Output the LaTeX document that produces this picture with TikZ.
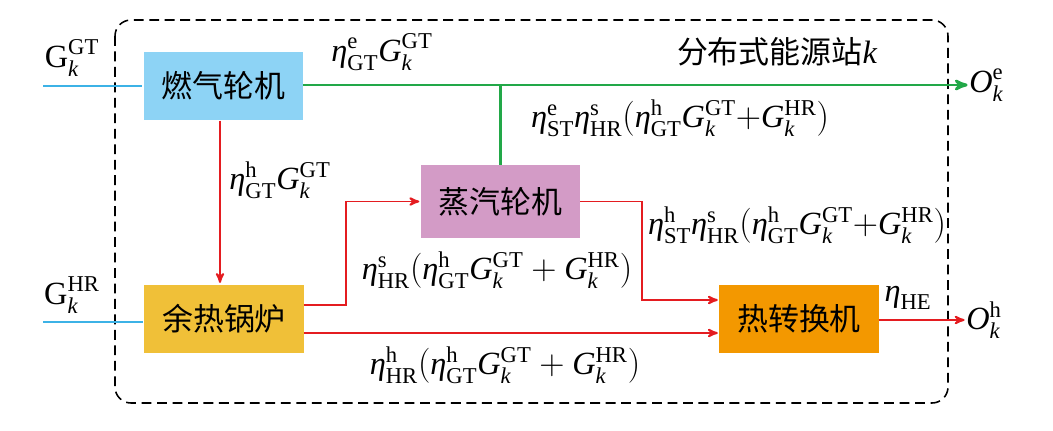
\documentclass[tikz,border=0pt]{standalone}
\usepackage{amsmath}
\usepackage{fontspec}
\setmainfont{Liberation Serif}
\newfontfamily\cjk{Noto Sans CJK SC}
\usepackage{tikz}
\usetikzlibrary{arrows,positioning}

\definecolor{gtblue}{RGB}{141,211,245}
\definecolor{stpink}{RGB}{211,155,198}
\definecolor{hryellow}{RGB}{240,192,56}
\definecolor{heorange}{RGB}{243,152,0}
\definecolor{flowgreen}{RGB}{34,168,72}
\definecolor{flowred}{RGB}{228,28,32}
\definecolor{flowblue}{RGB}{60,178,230}

% italic letters from the text font
\newcommand{\ieta}{\text{\itshape η}}
\newcommand{\ik}{\text{\itshape k}}
\newcommand{\effi}[2]{\ieta^{\mathrm{#1}}_{\mathrm{#2}}}
\newcommand{\gas}[1]{\text{\itshape G}^{\mathrm{#1}}_{\ik}}

\tikzset{
  unit/.style={rectangle, minimum width=3.975cm, minimum height=1.72cm,
    font=\cjk\fontsize{22}{26}\selectfont},
  lbl/.style={inner sep=0pt, font=\fontsize{23}{27}\selectfont},
  gasline/.style={flowblue, line width=1.1pt},
  elecline/.style={flowgreen, line width=2pt},
  heatline/.style={flowred, line width=1.4pt}
}

\begin{document}
\begin{tikzpicture}[x=0.025cm, y=-0.025cm, >=stealth', shorten >=1pt]
    \useasboundingbox (0,0) rectangle (1053,430);

    % station border
    \draw [line width=1.1pt, dash pattern=on 7pt off 4pt, rounded corners=0.4cm]
        (115,20) rectangle (948,403);
    \node [lbl, font=\cjk\fontsize{22}{26}\selectfont] (station) at (777,52) {分布式能源站{\rmfamily\itshape\fontsize{23}{27}\selectfont k}};

    % units
    \node [unit, fill=gtblue]   (gt)   at (223.5,86)  {燃气轮机};
    \node [unit, fill=stpink, minimum height=1.82cm] (st) at (500.5,201.5) {蒸汽轮机};
    \node [unit, fill=hryellow] (hrsg) at (224,319)   {余热锅炉};
    \node [unit, fill=heorange] (he)   at (799,319)   {热转换机};

    % inputs and outputs
    \coordinate (gin) at (43,86);
    \coordinate (hin) at (43,322);
    \coordinate (oe)  at (969,85);
    \coordinate (oh)  at (966,320);
    \node [lbl] (gin label) at (72,58)  {$\mathrm{G}^{\mathrm{GT}}_{\ik}$};
    \node [lbl] (hin label) at (72,295) {$\mathrm{G}^{\mathrm{HR}}_{\ik}$};
    \node [lbl, anchor=west] (oe label) at (oe) {$\text{\itshape O}^{\mathrm{e}}_{\ik}$};
    \node [lbl, anchor=west] (oh label) at (oh) {$\text{\itshape O}^{\mathrm{h}}_{\ik}$};

    % Paths
    \draw [gasline] (gin) -- (gt.west);
    \draw [gasline] (hin) -- (hin -| hrsg.west);
    \draw [elecline, ->] (gt.east |- oe) -- (oe);
    \draw [elecline] (st.north) -- (st.north |- oe);
    \draw [heatline, ->] (gt.south -| 220,0) -- (hrsg.north -| 220,0);
    \draw [heatline, ->] ([yshift=0.35cm]hrsg.east) -- ++(42,0) |- (st.west);
    \draw [heatline, ->] (st.east) -- ++(62,0) |- ([yshift=0.475cm]he.west);
    \draw [heatline, ->] ([yshift=-0.35cm]hrsg.east) -- ([yshift=-0.35cm]he.west);
    \draw [heatline, ->] (he.east |- oh) -- (oh);

    % flow labels
    \node [lbl] (gt e)  at (382,52)  {$\effi{e}{GT}\gas{GT}$};
    \node [lbl] (st e)  at (680,118) {$\effi{e}{ST}\effi{s}{HR}(\effi{h}{GT}\gas{GT}{+}\gas{HR})$};
    \node [lbl] (gt h)  at (280,180) {$\effi{h}{GT}\gas{GT}$};
    \node [lbl] (hr s)  at (497,270) {$\effi{s}{HR}(\effi{h}{GT}\gas{GT}+\gas{HR})$};
    \node [lbl] (st h)  at (797,225) {$\effi{h}{ST}\effi{s}{HR}(\effi{h}{GT}\gas{GT}{+}\gas{HR})$};
    \node [lbl] (hr h)  at (505,365) {$\effi{h}{HR}(\effi{h}{GT}\gas{GT}+\gas{HR})$};
    \node [lbl] (he eta) at (908,298) {$\ieta_{\mathrm{HE}}$};
\end{tikzpicture}
\end{document}
